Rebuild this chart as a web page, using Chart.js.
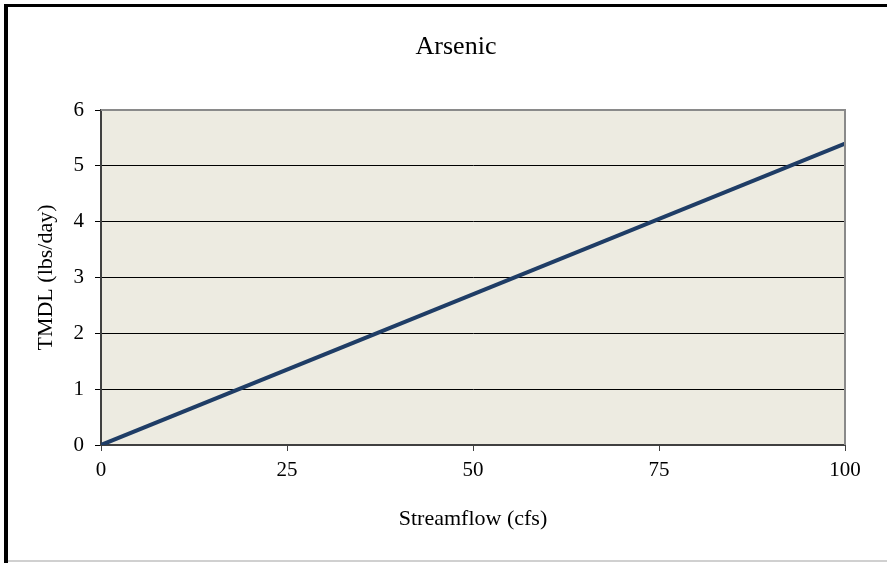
<!DOCTYPE html>
<html>
<head>
<meta charset="utf-8">
<script src="https://cdn.jsdelivr.net/npm/chart.js@4"></script>
<style>
  body { margin: 0; background: #fff; }
  #wrap { width: 887px; height: 563px; }
</style>
</head>
<body>
<div id="wrap"><canvas id="chart_arsenic" width="887" height="563"></canvas></div>
<script>
"use strict";

// streamflow (cfs) vs TMDL (lbs/day)
const streamflow = [0, 100];
const tmdl = [0, 5.4];
const xTicks = [0, 25, 50, 75, 100];
const yTicks = [0, 1, 2, 3, 4, 5, 6];
const chartTitle = "Arsenic";

const serif = "'Liberation Serif', 'Times New Roman', serif";

// beige plot area, gray frame, title and the picture border
const framePlugin = {
    id: "frame",
    beforeDraw: (chart) => {
        const { ctx, chartArea: a } = chart;
        ctx.save();
        ctx.fillStyle = "#edebe1";
        ctx.fillRect(a.left, a.top, a.right - a.left, a.bottom - a.top);
        ctx.restore();
    },
    afterDraw: (chart) => {
        const { ctx, chartArea: a } = chart;
        ctx.save();
        ctx.strokeStyle = "#8a8a8a";
        ctx.lineWidth = 2;
        ctx.beginPath();
        ctx.moveTo(a.left, a.top);
        ctx.lineTo(a.right, a.top);
        ctx.lineTo(a.right, a.bottom);
        ctx.stroke();

        // title sits a bit right of the plot centre, like the original
        ctx.fillStyle = "#000";
        ctx.font = "26px " + serif;
        ctx.textAlign = "center";
        ctx.textBaseline = "middle";
        ctx.fillText(chartTitle, 456, 47);

        // outer picture border
        ctx.fillRect(4, 4, 883, 3);
        ctx.fillRect(4, 4, 4, 559);
        ctx.fillStyle = "#d0d0d0";
        ctx.fillRect(8, 560, 879, 2);
        ctx.restore();
    }
};

const ctx = document.getElementById("chart_arsenic").getContext("2d");

new Chart(ctx, {
    type: "line",
    data: {
        datasets: [{
            data: streamflow.map((x, i) => ({ x: x, y: tmdl[i] })),
            borderColor: "#1f3d66",
            borderWidth: 4,
            pointRadius: 0,
            fill: false,
            tension: 0
        }]
    },
    options: {
        responsive: false,
        animation: false,
        layout: { padding: { left: 0, right: 42, top: 110, bottom: 0 } },
        plugins: {
            legend: { display: false },
            tooltip: { enabled: false },
            title: { display: false }
        },
        scales: {
            x: {
                type: "linear",
                min: 0,
                max: 100,
                afterBuildTicks: (s) => { s.ticks = xTicks.map(v => ({ value: v })); },
                afterFit: (s) => { s.height = 118; },
                grid: { drawOnChartArea: false, drawTicks: true, tickLength: 6, color: "#404040", lineWidth: 1 },
                border: { color: "#404040", width: 2 },
                ticks: { color: "#000", padding: 7, font: { family: serif, size: 21 } },
                title: {
                    display: true,
                    text: "Streamflow (cfs)",
                    color: "#000",
                    font: { family: serif, size: 22 },
                    padding: { top: 0, bottom: 31 }
                }
            },
            y: {
                type: "linear",
                min: 0,
                max: 6,
                afterBuildTicks: (s) => { s.ticks = yTicks.map(v => ({ value: v })); },
                afterFit: (s) => { s.width = 101; },
                grid: { drawTicks: true, tickLength: 6, color: "#000", lineWidth: 1 },
                border: { color: "#404040", width: 2 },
                ticks: { color: "#000", padding: 11, font: { family: serif, size: 21 } },
                title: {
                    display: true,
                    text: "TMDL (lbs/day)",
                    color: "#000",
                    font: { family: serif, size: 22 },
                    padding: { top: 33, bottom: 0 }
                }
            }
        }
    },
    plugins: [framePlugin]
});
</script>
</body>
</html>
